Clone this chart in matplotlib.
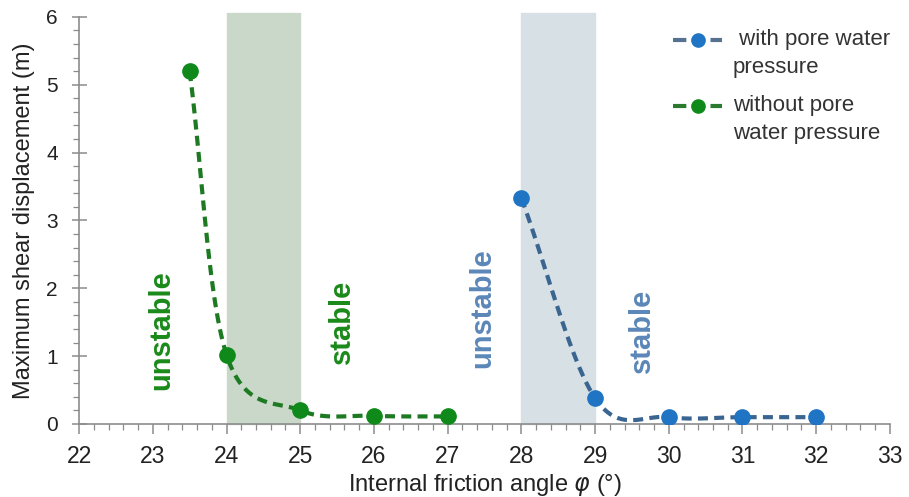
import numpy as np
import matplotlib
matplotlib.use("Agg")
import matplotlib.pyplot as plt
from matplotlib.ticker import MultipleLocator
from matplotlib.lines import Line2D
from matplotlib.transforms import ScaledTranslation

plt.rcParams['font.family'] = ['Liberation Sans', 'DejaVu Sans']

# data
phi_without = [23.5, 24, 25, 26, 27]
disp_without = [5.2, 1.02, 0.2, 0.12, 0.11]
phi_with = [28, 29, 30, 31, 32]
disp_with = [3.33, 0.38, 0.1, 0.1, 0.1]
band_without = (24, 25)
band_with = (28, 29)
xticks = list(range(22, 34))
yticks = list(range(0, 7))

def smooth(x, y, n=30):
    # Catmull-Rom style smoothing (like spreadsheet smoothed lines)
    x = np.asarray(x, float); y = np.asarray(y, float)
    px = np.concatenate([[2*x[0]-x[1]], x, [2*x[-1]-x[-2]]])
    py = np.concatenate([[2*y[0]-y[1]], y, [2*y[-1]-y[-2]]])
    xs, ys = [], []
    t = np.linspace(0, 1, n)
    for i in range(1, len(px)-2):
        p0, p1, p2, p3 = [np.array([px[j], py[j]]) for j in (i-1, i, i+1, i+2)]
        m1 = (p2 - p0) / 2
        m2 = (p3 - p1) / 2
        h00 = 2*t**3 - 3*t**2 + 1; h10 = t**3 - 2*t**2 + t
        h01 = -2*t**3 + 3*t**2; h11 = t**3 - t**2
        pts = (np.outer(h00, p1) + np.outer(h10, m1) + np.outer(h01, p2) + np.outer(h11, m2))
        xs.extend(pts[:, 0]); ys.extend(pts[:, 1])
    return np.array(xs), np.array(ys)

fig = plt.figure(figsize=(9.09, 4.97), dpi=100)
ax = fig.add_axes([0.087, 0.147, 0.892, 0.819])

green_line = '#1d7a22'
green_mk = '#0f8a1a'
blue_line = '#3a6590'
blue_mk = '#1f74c4'
DASH = (0, (2.4, 1.5))

ax.axvspan(*band_without, ymin=0, ymax=6.06/6.0, color='#c9d8c8', zorder=0, clip_on=False)
ax.axvspan(*band_with, ymin=0, ymax=6.06/6.0, color='#d6e0e5', zorder=0, clip_on=False)

sx, sy = smooth(phi_with, disp_with)
ax.plot(sx, sy, color=blue_line, lw=3, ls=DASH, zorder=2)
ax.plot(phi_with, disp_with, 'o', color=blue_mk, ms=11, zorder=3)
sx, sy = smooth(phi_without, disp_without)
ax.plot(sx, sy, color=green_line, lw=3, ls=DASH, zorder=2)
ax.plot(phi_without, disp_without, 'o', color=green_mk, ms=11, zorder=3)

LEG_DASH = (0, (3.2, 1.3))
h1 = Line2D([], [], color='#557391', lw=3, ls=LEG_DASH, marker='o', mfc=blue_mk, mec=blue_mk, ms=9.5)
h2 = Line2D([], [], color='#2a7a30', lw=3, ls=LEG_DASH, marker='o', mfc=green_mk, mec=green_mk, ms=9.5)
leg = ax.legend([h1, h2], [' with pore water\npressure', 'without pore\nwater pressure'],
                loc='upper right', bbox_to_anchor=(1.025, 1.02), frameon=False, fontsize=16,
                handlelength=2.2, labelspacing=0.75, handletextpad=0.5)
for t in leg.get_texts():
    t.set_color('#333333')
    t.set_linespacing(1.45)
# align each legend handle with the first text line
for lh in leg.legend_handles:
    lh.set_transform(lh.get_transform() + ScaledTranslation(0, 0.135, fig.dpi_scale_trans))

kw = dict(rotation=90, fontsize=21, fontweight='bold', ha='center', va='center')
ax.text(23.12, 1.39, 'unstable', color='#1a8a1a', **kw)
ax.text(25.57, 1.50, 'stable', color='#1a8a1a', **kw)
ax.text(27.47, 1.70, 'unstable', color='#5b87b8', **kw)
ax.text(29.64, 1.37, 'stable', color='#5b87b8', **kw)

ax.set_xlim(22, 33)
ax.set_ylim(0, 6)
ax.set_xticks(xticks)
ax.set_yticks(yticks)
ax.xaxis.set_minor_locator(MultipleLocator(0.2))
ax.yaxis.set_minor_locator(MultipleLocator(0.2))
for s in ['top', 'right']:
    ax.spines[s].set_visible(False)
for s in ['left', 'bottom']:
    ax.spines[s].set_color('#8c8c8c')
    ax.spines[s].set_linewidth(1.2)
ax.tick_params(which='both', color='#8c8c8c', labelcolor='#222222')
ax.tick_params(axis='y', which='major', direction='inout', length=10.8, width=1.1, labelsize=15, pad=10)
ax.tick_params(axis='y', which='minor', direction='out', length=4.3, width=0.9)
ax.tick_params(axis='x', which='major', direction='out', length=7, width=1.1, labelsize=16.5, pad=8)
ax.tick_params(axis='x', which='minor', direction='out', length=4, width=0.9)
ax.set_xlabel('Internal friction angle $\\varphi$ (°)', fontsize=17, color='#222222', labelpad=3)
ax.set_ylabel('Maximum shear displacement (m)', fontsize=17, color='#222222', labelpad=8)

fig.savefig('out.png', dpi=100)
